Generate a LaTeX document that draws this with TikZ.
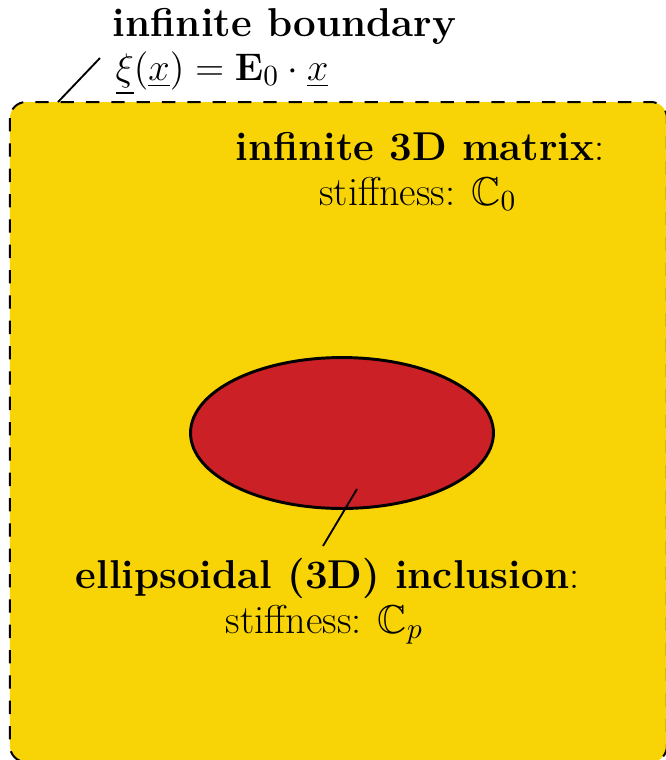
\documentclass[tikz,border=0pt]{standalone}
\usepackage{amsmath,amssymb}
\usetikzlibrary{shapes.geometric}
\definecolor{matyellow}{RGB}{248,212,6}
\definecolor{incred}{RGB}{204,32,39}
\begin{document}
\begin{tikzpicture}[x=0.375pt,y=-0.375pt,
  lbl/.style={font=\fontsize{15.1pt}{18pt}\selectfont,inner sep=0pt,anchor=base},
  leader/.style={line width=0.7pt}]
\useasboundingbox (0,0) rectangle (666,760);
\begin{scope}
\clip (0,0) rectangle (666,760);
\draw[fill=matyellow,dash pattern=on 5pt off 4.5pt,line width=0.75pt,rounded corners=6pt]
  (10,102) rectangle (667,762);
\end{scope}
\node[ellipse,draw,fill=incred,line width=1.1pt,minimum width=113.6pt,minimum height=56.6pt,inner sep=0pt] (incl) at (342,433) {};
\node[lbl] (bt) at (284.5,36) {\textbf{infinite boundary}};
\node[lbl,anchor=base west] (bm) at (115,80) {$\underline{\xi}(\underline{x}) = \mathbf{E}_0 \cdot \underline{x}$};
\node[lbl] (mt) at (420,160) {\textbf{infinite 3D matrix}:};
\node[lbl] (ms) at (418,205) {stiffness: $\mathbb{C}_0$};
\node[lbl] (it) at (327.5,588) {\textbf{ellipsoidal (3D) inclusion}:};
\node[lbl] (is) at (324.5,633) {stiffness: $\mathbb{C}_p$};
\coordinate (b1) at (58,102);
\coordinate (b2) at (100,58);
\coordinate (p1) at (357,489);
\coordinate (p2) at (323,546);
\draw[leader] (b1) -- (b2);
\draw[leader] (p1) -- (p2);
\end{tikzpicture}
\end{document}
